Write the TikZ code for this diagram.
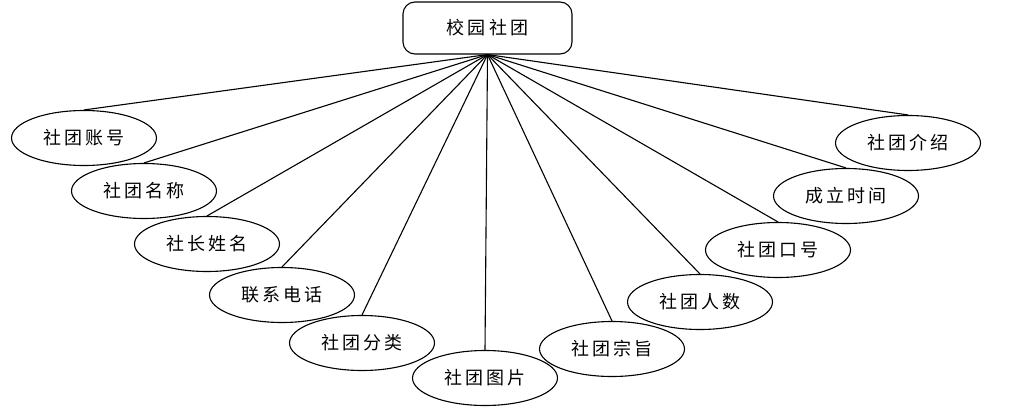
\documentclass[tikz,border=0pt]{standalone}
\usepackage{fontspec}
\newfontfamily\cjk[LetterSpace=18]{Noto Sans CJK SC}
\usetikzlibrary{shapes.geometric,positioning}
\tikzstyle{entity}=[draw,rounded corners=12pt,line width=1.1pt,minimum width=169pt,minimum height=52pt,inner sep=0pt]
\tikzstyle{attr}=[draw,ellipse,line width=1.1pt,minimum width=145pt,minimum height=55pt,inner sep=0pt]

\begin{document}
\begin{tikzpicture}[x=1pt,y=-1pt,every node/.style={font=\cjk\fontsize{18}{22}\selectfont}]
        \useasboundingbox (0,0) rectangle (1027,417);
        \node[entity] at (487.5,28) (club) {校园社团};

        \node[attr] at (84,138) (acct) {社团账号};
        \node[attr] at (144,191) (name) {社团名称};
        \node[attr] at (207,244) (leader) {社长姓名};
        \node[attr] at (282,295) (phone) {联系电话};
        \node[attr] at (362,343) (kind) {社团分类};
        \node[attr] at (485,378) (pic) {社团图片};
        \node[attr] at (612,349) (aim) {社团宗旨};
        \node[attr] at (700,302) (num) {社团人数};
        \node[attr] at (778,250) (slogan) {社团口号};
        \node[attr] at (846,196) (date) {成立时间};
        \node[attr] at (908,143) (intro) {社团介绍};

        \foreach \a in {acct,name,leader,phone,kind,pic,aim,num,slogan,date,intro}
          \draw[line width=1.1pt] (club.south) -- (\a.north);
      \end{tikzpicture}
\end{document}
